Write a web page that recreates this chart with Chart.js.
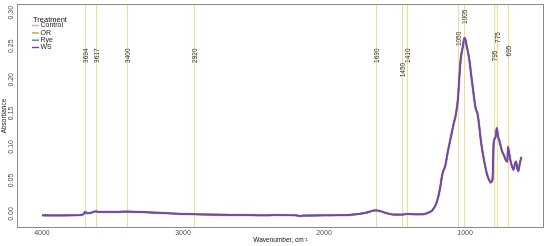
<!DOCTYPE html>
<html>
<head>
<meta charset="utf-8">
<script src="https://cdn.jsdelivr.net/npm/chart.js@4.4.1/dist/chart.umd.min.js"></script>
<style>
  html, body { margin: 0; padding: 0; background: #fff; }
  canvas { display: block; }
</style>
</head>
<body>
<canvas id="ftirChart" width="550" height="246"></canvas>
<script>
// Spectrum (wavenumber, cm-1 -> absorbance)
const wavenumbers = [
  4000, 3900, 3800, 3720, 3700, 3694, 3680, 3650, 3617, 3600, 3500, 3400, 3300, 3200, 3100,
  3000, 2900, 2800, 2600, 2400, 2350, 2200, 2170, 2150, 2000, 1900, 1800, 1700, 1650, 1630,
  1600, 1550, 1500, 1450, 1410, 1350, 1300, 1260, 1230, 1200, 1180, 1160, 1140, 1120, 1100,
  1080, 1065, 1050, 1040, 1030, 1015, 1005, 1000, 990, 971, 955, 940, 925, 910, 900,
  885, 865, 845, 830, 817, 805, 797, 790, 782, 775, 765, 755, 740, 725, 710,
  700, 695, 688, 675, 665, 656, 645, 638, 630, 622, 612, 600
];
const wsAbs = [
  -0.002, -0.0022, -0.002, -0.0015, 0.001, 0.003, 0.001, 0.002, 0.004, 0.003, 0.003, 0.0035, 0.003, 0.002, 0.001,
  0.0, -0.0005, -0.001, -0.0015, -0.002, -0.0015, -0.002, -0.003, -0.0025, -0.002, -0.0018, -0.001, 0.002, 0.005, 0.0055,
  0.004, 0.001, -0.001, -0.001, 0.0, -0.0005, -0.0005, 0.002, 0.006, 0.018, 0.035, 0.06, 0.072, 0.095, 0.115,
  0.135, 0.148, 0.172, 0.205, 0.232, 0.25, 0.262, 0.262, 0.252, 0.232, 0.205, 0.18, 0.158, 0.148, 0.132,
  0.105, 0.08, 0.06, 0.051, 0.047, 0.052, 0.105, 0.112, 0.116, 0.128, 0.115, 0.108, 0.095, 0.088, 0.08,
  0.078, 0.1, 0.092, 0.077, 0.07, 0.066, 0.076, 0.078, 0.068, 0.064, 0.075, 0.085
];
// the other treatments sit underneath WS and cannot be told apart at this size
const controlAbs = wsAbs;
const orAbs = wsAbs;
const ryeAbs = wsAbs;

const treatments = ['Control', 'OR', 'Rye', 'WS'];
const treatmentColors = ['#EBA3B3', '#A3B02E', '#2F9E7C', '#7443AE'];

// assigned bands (vertical guides) and the height of their labels
const bandPeaks = [3694, 3617, 3400, 2920, 1630, 1450, 1410, 1050, 1005, 795, 775, 695];
const bandLabelY = [0.236, 0.236, 0.236, 0.236, 0.236, 0.2146, 0.236, 0.261, 0.294, 0.2355, 0.263, 0.243];

const xTicks = [4000, 3000, 2000, 1000];
const yTicks = [0, 0.05, 0.10, 0.15, 0.20, 0.25, 0.30];

const FONT = '"Liberation Sans", Arial, sans-serif';

const toPoints = (vals) => wavenumbers.map((w, i) => ({ x: w, y: vals[i] }));

const seriesData = [controlAbs, orAbs, ryeAbs, wsAbs];
const seriesWidth = [3, 1.6, 1.6, 1.7];

const datasets = treatments.map((name, i) => ({
  label: name,
  data: toPoints(seriesData[i]),
  borderColor: i === 0 ? 'rgba(240, 160, 185, 0.55)' : treatmentColors[i],
  borderWidth: seriesWidth[i],
  pointRadius: 0,
  fill: false,
  cubicInterpolationMode: 'monotone',
  // WS is drawn last (on top), Control at the bottom
  order: treatments.length - 1 - i
}));

const ggPlugin = {
  id: 'ggDecor',
  beforeDatasetsDraw(chart) {
    const { ctx, chartArea: a, scales: { x, y } } = chart;
    ctx.save();
    // band guides
    ctx.strokeStyle = '#F0DC92';
    ctx.lineWidth = 1;
    bandPeaks.forEach(wn => {
      const px = Math.round(x.getPixelForValue(wn)) + 0.5;
      ctx.beginPath();
      ctx.moveTo(px, a.top);
      ctx.lineTo(px, a.bottom);
      ctx.stroke();
    });
    // band labels
    ctx.fillStyle = '#2b2b2b';
    ctx.font = '6.5px ' + FONT;
    ctx.textAlign = 'center';
    ctx.textBaseline = 'middle';
    bandPeaks.forEach((wn, i) => {
      ctx.save();
      ctx.translate(Math.round(x.getPixelForValue(wn)) + 1, y.getPixelForValue(bandLabelY[i]));
      ctx.rotate(-Math.PI / 2);
      ctx.fillText(String(wn), 0, 0);
      ctx.restore();
    });
    ctx.restore();
  },
  afterDraw(chart) {
    const { ctx, chartArea: a, scales: { x, y } } = chart;
    ctx.save();
    // panel border
    ctx.strokeStyle = '#8a8a8a';
    ctx.lineWidth = 1;
    ctx.strokeRect(a.left + 0.5, a.top + 0.5, a.right - a.left - 1, a.bottom - a.top - 1);

    // x tick labels
    ctx.fillStyle = '#4d4d4d';
    ctx.font = '7px ' + FONT;
    ctx.textAlign = 'center';
    ctx.textBaseline = 'middle';
    xTicks.forEach(t => ctx.fillText(String(t), x.getPixelForValue(t), a.bottom + 5.5));

    // y tick labels (rotated like ggplot's angle = 90)
    yTicks.forEach(t => {
      ctx.save();
      ctx.translate(11, y.getPixelForValue(t));
      ctx.rotate(-Math.PI / 2);
      ctx.fillText(t.toFixed(2), 0, 0);
      ctx.restore();
    });

    // axis titles
    ctx.fillStyle = '#111';
    ctx.font = '6.5px ' + FONT;
    ctx.fillText('Wavenumber, cm\u207B\u00B9', (a.left + a.right) / 2, 240.5);
    ctx.save();
    ctx.translate(4, (a.top + a.bottom) / 2);
    ctx.rotate(-Math.PI / 2);
    ctx.fillText('Absorbance', 0, 0);
    ctx.restore();

    // legend
    ctx.textAlign = 'left';
    ctx.font = '7.5px ' + FONT;
    ctx.fillText('Treatment', 33, 19.5);
    ctx.font = '7px ' + FONT;
    const rowY = [25.5, 33, 40.2, 47.5];
    treatments.forEach((name, i) => {
      ctx.strokeStyle = treatmentColors[i];
      ctx.lineWidth = 1.4;
      ctx.beginPath();
      ctx.moveTo(32, rowY[i]);
      ctx.lineTo(39, rowY[i]);
      ctx.stroke();
      ctx.fillStyle = '#222';
      ctx.fillText(name, 40.5, rowY[i]);
    });
    ctx.restore();
  }
};

new Chart(document.getElementById('ftirChart').getContext('2d'), {
  type: 'line',
  data: { datasets },
  options: {
    responsive: false,
    animation: false,
    devicePixelRatio: 1,
    layout: { padding: { left: 17, right: 6, top: 4, bottom: 18 } },
    plugins: {
      legend: { display: false },
      tooltip: { enabled: false }
    },
    scales: {
      x: {
        type: 'linear',
        reverse: true,
        min: 440,
        max: 4177,
        display: false
      },
      y: {
        type: 'linear',
        min: -0.0209,
        max: 0.313,
        display: false
      }
    }
  },
  plugins: [ggPlugin]
});
</script>
</body>
</html>
